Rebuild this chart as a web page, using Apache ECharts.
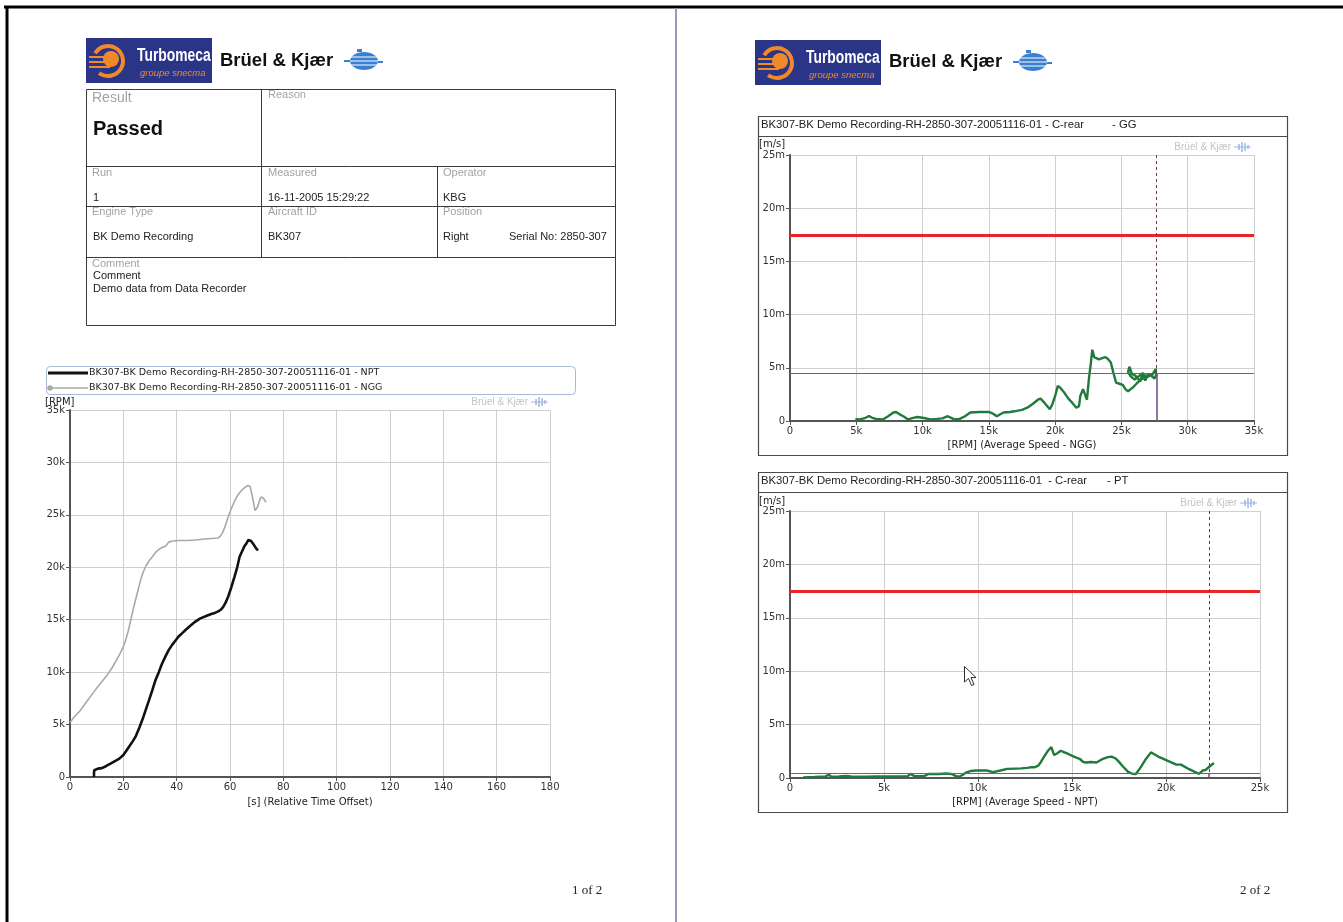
<!DOCTYPE html>
<html><head><meta charset="utf-8">
<script src="https://cdn.jsdelivr.net/npm/echarts@6.0.0/dist/echarts.min.js"></script>
<style>html,body{margin:0;padding:0;background:#fff}#c{width:1343px;height:922px}</style>
</head><body><div id="c"></div><script>
// ---------------- DATA ----------------
// Left chart: RPM vs relative time [s]
const nptPoints = [[9,0],[9,400],[9.1,650],[10.5,800],[12,850],[13.6,1050],[15,1250],[16.7,1500],[18.5,1750],[20,2100],[21,2450],[22.2,2900],[23.5,3400],[24.7,3900],[26,4700],[27.2,5500],[28.4,6400],[29.6,7300],[30.9,8300],[32,9200],[33.3,10000],[34.5,10800],[35.8,11500],[37,12100],[38.3,12600],[39.5,13000],[40.7,13400],[42,13700],[43.2,14000],[45,14400],[46.9,14800],[48.7,15100],[50.6,15300],[52,15450],[53,15550],[54.3,15650],[55.6,15800],[56.5,15950],[57.4,16200],[58.3,16600],[59.3,17200],[60.5,18100],[61.7,19100],[62.7,20000],[63.6,21000],[64.5,21500],[65.4,22000],[66.2,22300],[66.9,22600],[67.9,22500],[68.8,22200],[69.8,21800],[70.5,21600]];
const nggPoints = [[0,5200],[1.5,5700],[3.7,6300],[6,7100],[8.6,8000],[11,8800],[13.6,9600],[15.5,10300],[17.3,11100],[18.8,11800],[20,12400],[20.8,13000],[21.6,13700],[22.2,14300],[22.8,15000],[23.7,16000],[24.7,17000],[25.6,17900],[26.5,18800],[27.4,19500],[28.4,20100],[29.6,20600],[30.9,21000],[32,21400],[33.3,21700],[34.5,21900],[35.8,22000],[36.5,22100],[37,22400],[38.5,22500],[40.7,22550],[44,22550],[46.9,22600],[50.6,22700],[53,22750],[55.6,22800],[56.5,23000],[57.4,23400],[58.3,24000],[59.3,24800],[60.5,25600],[61.7,26300],[63,26900],[64.2,27300],[65.5,27600],[66.7,27800],[67.5,27700],[68,27200],[68.5,26600],[69,25900],[69.4,25400],[69.9,25400],[70.4,25800],[71,26300],[71.6,26700],[72.5,26600],[73.5,26200]];
const legendNames = ['BK307-BK Demo Recording-RH-2850-307-20051116-01 - NPT','BK307-BK Demo Recording-RH-2850-307-20051116-01 - NGG'];

// Right top chart: C-rear GG, velocity [m/s, milli] vs NGG speed [RPM]
const ggPoints = [[4930,0.16],[5300,0.15],[5700,0.3],[5960,0.47],[6200,0.3],[6500,0.2],[7000,0.15],[7400,0.45],[7800,0.8],[8000,0.85],[8300,0.6],[8550,0.45],[8900,0.15],[9300,0.3],[9600,0.38],[10100,0.28],[10600,0.15],[11100,0.2],[11500,0.25],[11900,0.45],[12150,0.3],[12400,0.15],[12800,0.2],[13200,0.45],[13600,0.8],[14300,0.85],[15000,0.85],[15300,0.7],[15600,0.45],[16100,0.8],[16600,0.85],[17100,0.95],[17500,1.05],[17900,1.25],[18300,1.6],[18700,2.0],[18900,2.1],[19200,1.7],[19600,1.1],[19800,1.6],[20000,2.35],[20200,3.3],[20400,3.1],[20700,2.65],[21000,2.1],[21300,1.7],[21600,1.25],[21800,1.4],[21900,2.35],[22100,3.0],[22250,2.5],[22400,2.0],[22550,4.0],[22700,5.5],[22800,6.7],[22950,6.0],[23100,5.9],[23300,5.8],[23550,5.9],[23800,6.0],[24000,5.8],[24200,5.5],[24400,4.5],[24600,3.6],[24850,3.5],[25100,3.4],[25300,3.0],[25500,2.8],[25700,3.0],[25900,3.2],[26200,3.6],[26500,3.9],[26800,4.1],[27000,4.3],[27300,4.4],[27600,4.6],[27600,4.9],[27300,4.3],[27000,4.4],[26800,3.8],[26600,4.4],[26400,3.7],[26200,4.1],[26000,4.3],[25800,4.4],[25600,5.1],[25500,4.6],[25700,4.2],[26000,3.9],[26300,4.2],[26600,4.5],[26900,4.1],[27200,4.3],[27500,4.0],[27650,4.4]];
const ggLimit = [17.5];
const ggLevel = [4.45];
const ggCursor = [27650];

// Right bottom chart: C-rear PT, velocity vs NPT speed
const ptPoints = [[700,0.06],[1300,0.1],[1900,0.15],[2060,0.3],[2200,0.12],[2600,0.15],[3000,0.2],[3060,0.38],[3250,0.15],[4000,0.12],[4600,0.15],[5400,0.15],[6250,0.15],[6400,0.38],[6600,0.2],[7000,0.18],[7200,0.22],[7350,0.38],[7900,0.38],[8300,0.42],[8600,0.38],[8800,0.2],[9000,0.12],[9200,0.3],[9350,0.5],[9600,0.65],[9900,0.7],[10450,0.7],[10800,0.55],[11200,0.7],[11550,0.85],[12000,0.88],[12300,0.9],[12600,0.95],[12800,1.0],[13000,1.0],[13200,1.15],[13350,1.5],[13500,1.95],[13700,2.5],[13900,2.9],[14050,2.15],[14200,2.3],[14400,2.55],[14600,2.4],[14800,2.25],[15100,2.0],[15400,1.8],[15600,1.5],[15750,1.45],[16000,1.5],[16300,1.45],[16650,1.8],[16900,1.95],[17100,2.0],[17300,1.85],[17450,1.6],[17700,1.1],[18000,0.55],[18200,0.4],[18400,0.38],[18650,1.0],[18900,1.7],[19200,2.4],[19400,2.2],[19650,1.95],[20100,1.6],[20550,1.25],[20800,1.25],[21200,0.85],[21500,0.6],[21750,0.38],[21950,0.7],[22100,0.75],[22200,0.6],[22300,1.05],[22400,1.15],[22550,1.4]];
const ptLimit = [17.5];
const ptLevel = [0.47];
const ptCursor = [22300];

// ---------------- STYLE HELPERS ----------------
const F = "'Liberation Sans', Arial, sans-serif";
const FC = "'DejaVu Sans', Tahoma, sans-serif";
function T(x, y, s, size, fill, extra) {
  extra = extra || {};
  return {type:'text', x:x, y:y, silent:true, z:50,
    scaleX: extra.scaleX || 1, originX: 0,
    style:{text:s, fill:fill || '#222',
      font:(extra.style||'') + ' ' + (extra.weight||'normal') + ' ' + size + 'px ' + (extra.family||F),
      textAlign:extra.align||'left', textVerticalAlign:'middle', align:extra.align||'left', verticalAlign:'middle'}};
}
function L(x1,y1,x2,y2,stroke,w,dash){
  return {type:'line', silent:true, z:40, shape:{x1:x1,y1:y1,x2:x2,y2:y2}, style:{stroke:stroke,lineWidth:w,lineDash:dash||null}};
}
function R(x,y,w,h,fill,stroke,lw,r){
  return {type:'rect', silent:true, z:30, shape:{x:x,y:y,width:w,height:h,r:r||0}, style:{fill:fill||'none',stroke:stroke||null,lineWidth:lw||1}};
}
function bkIcon(x, y, col){
  const c = col || '#9cb7e4';
  return [L(x,y,x+17,y,c,1), L(x+5,y-3,x+5,y+3,c,1.5), L(x+8,y-5,x+8,y+5,c,1.5), L(x+11,y-4,x+11,y+4,c,1.5), L(x+14,y-2,x+14,y+2,c,1.5)];
}
function watermark(xr, y){
  return [T(xr, y, 'Brüel & Kjær', 10, '#c4c4c4', {align:'right'})].concat(bkIcon(xr+3, y));
}
function turbomeca(x, y){
  const cx = x + 22, cy = y + 23;
  return [
    R(x, y, 126, 45, '#2b3587', null),
    {type:'arc', silent:true, z:35, shape:{cx:cx, cy:cy, r:15, startAngle:-2.6, endAngle:2.2}, style:{stroke:'#f0892a', lineWidth:4, fill:'none'}},
    {type:'circle', silent:true, z:35, shape:{cx:cx+3, cy:cy-2, r:8}, style:{fill:'#f0892a'}},
    L(x+3, cy-4, cx+2, cy-4, '#f0892a', 2), L(x+3, cy+1, cx+2, cy+1, '#f0892a', 2), L(x+3, cy+6, cx+2, cy+6, '#f0892a', 2),
    T(x+51, y+18, 'Turbomeca', 18, '#ffffff', {weight:'bold', scaleX:0.77}),
    T(x+54, y+35, 'groupe snecma', 9.5, '#f0892a', {style:'italic'})
  ];
}
function globe(cx, cy){
  return [
    {type:'ellipse', silent:true, z:35, shape:{cx:cx, cy:cy, rx:14, ry:9}, style:{fill:'#3b80d0'}},
    L(cx-13, cy-4, cx+13, cy-4, '#ffffff', 1), L(cx-14, cy, cx+14, cy, '#ffffff', 1), L(cx-13, cy+4, cx+13, cy+4, '#ffffff', 1),
    L(cx-20, cy, cx-14, cy, '#3b80d0', 2), L(cx+14, cy+1, cx+19, cy+1, '#3b80d0', 2),
    R(cx-7, cy-12, 5, 3, '#3b80d0', null)
  ];
}
function bkLogo(x, y){ return [T(x, y, 'Brüel & Kjær', 18.5, '#111', {weight:'bold'})]; }

// ---------------- GRAPHICS ----------------
let g = [];
// page frame
g.push(L(4, 7, 1343, 7, '#000', 3));
g.push(L(7, 6, 7, 922, '#000', 3));
g.push(L(676, 8, 676, 922, '#9c98bc', 2));
// logos
g = g.concat(turbomeca(86, 38), bkLogo(220, 61), globe(364, 61));
g = g.concat(turbomeca(755, 40), bkLogo(889, 62), globe(1033, 62));
// table
const tc = '#3a3a3a', lab = '#a3a3a3';
g.push(R(86.5, 89.5, 529, 236, null, tc, 1));
g.push(L(86, 166.5, 615, 166.5, tc, 1));
g.push(L(86, 206.5, 615, 206.5, tc, 1));
g.push(L(86, 257.5, 615, 257.5, tc, 1));
g.push(L(261.5, 89, 261.5, 257, tc, 1));
g.push(L(437.5, 166, 437.5, 257, tc, 1));
g.push(T(92, 98, 'Result', 14, lab));
g.push(T(93, 129, 'Passed', 20, '#111', {weight:'bold'}));
g.push(T(268, 95, 'Reason', 11, lab));
g.push(T(92, 173, 'Run', 11, lab));
g.push(T(93, 198, '1', 11, '#222'));
g.push(T(268, 173, 'Measured', 11, lab));
g.push(T(268, 198, '16-11-2005 15:29:22', 11, '#222'));
g.push(T(443, 173, 'Operator', 11, lab));
g.push(T(443, 198, 'KBG', 11, '#222'));
g.push(T(92, 212, 'Engine Type', 11, lab));
g.push(T(93, 237, 'BK Demo Recording', 11, '#222'));
g.push(T(268, 212, 'Aircraft ID', 11, lab));
g.push(T(268, 237, 'BK307', 11, '#222'));
g.push(T(443, 212, 'Position', 11, lab));
g.push(T(443, 237, 'Right', 11, '#222'));
g.push(T(509, 237, 'Serial No: 2850-307', 11, '#222'));
g.push(T(92, 264, 'Comment', 11, lab));
g.push(T(93, 276, 'Comment', 11, '#222'));
g.push(T(93, 289, 'Demo data from Data Recorder', 11, '#222'));
// left chart legend
g.push(R(46.5, 366.5, 529, 28, null, '#a9b8d6', 1, 4));
g.push(L(48, 373, 88, 373, '#111', 3));
g.push(T(89, 373, legendNames[0], 9.5, '#222', {family:FC}));
g.push(L(50, 388, 88, 388, '#aaaaaa', 1.5));
g.push({type:'circle', silent:true, z:45, shape:{cx:50, cy:388, r:2.8}, style:{fill:'#aaaaaa'}});
g.push(T(89, 388, legendNames[1], 9.5, '#222', {family:FC}));
g.push(T(45, 402, '[RPM]', 10, '#222', {family:FC}));
g = g.concat(watermark(528, 402));
// right chart frames
g.push(R(758.5, 116.5, 529, 339, null, '#4a4a4a', 1.2));
g.push(L(758, 136.5, 1288, 136.5, '#4a4a4a', 1.2));
g.push(T(761, 125, 'BK307-BK Demo Recording-RH-2850-307-20051116-01 - C-rear', 11.3, '#222'));
g.push(T(1112, 125, '- GG', 11.3, '#222'));
g.push(T(759, 144, '[m/s]', 10, '#222', {family:FC}));
g = g.concat(watermark(1231, 147));
g.push(R(758.5, 472.5, 529, 340, null, '#4a4a4a', 1.2));
g.push(L(758, 492.5, 1288, 492.5, '#4a4a4a', 1.2));
g.push(T(761, 481, 'BK307-BK Demo Recording-RH-2850-307-20051116-01  - C-rear', 11.3, '#222'));
g.push(T(1107, 481, '- PT', 11.3, '#222'));
g.push(T(759, 501, '[m/s]', 10, '#222', {family:FC}));
g = g.concat(watermark(1237, 503));
// mouse pointer
g.push({type:'polygon', silent:true, z:60, shape:{points:[[964.5,666.5],[964.5,682],[968.5,678.5],[971.5,685.5],[974,684.5],[971,677.5],[976,677.5]]}, style:{fill:'#ffffff', stroke:'#333', lineWidth:1}});
// page numbers
g.push(T(572, 891, '1 of 2', 13, '#222', {family:"'Liberation Serif', 'DejaVu Serif', serif"}));
g.push(T(1240, 891, '2 of 2', 13, '#222', {family:"'Liberation Serif', 'DejaVu Serif', serif"}));

// ---------------- AXES ----------------
const kfmt = v => v === 0 ? '0' : (v / 1000) + 'k';
const mfmt = v => v === 0 ? '0' : v + 'm';
const lbl = (fmt) => ({show:true, color:'#333', fontSize:10, fontFamily:FC, margin:5, formatter:fmt});
function axisBase(extra){
  return Object.assign({
    type:'value',
    axisLine:{show:true, onZero:false, lineStyle:{color:'#555555', width:2}},
    axisTick:{show:true, length:4, inside:false, lineStyle:{color:'#555555', width:1}},
    axisLabel:lbl(null),
    splitLine:{show:true, lineStyle:{color:'#cfcfcf', width:1}},
    nameTextStyle:{color:'#222', fontSize:10, fontFamily:FC}
  }, extra);
}
const xAxes = [
  axisBase({gridIndex:0, min:0, max:180, interval:20, name:'[s] (Relative Time Offset)', nameLocation:'middle', nameGap:20}),
  axisBase({gridIndex:1, min:0, max:35000, interval:5000, axisLabel:lbl(kfmt), name:'[RPM] (Average Speed - NGG)', nameLocation:'middle', nameGap:19}),
  axisBase({gridIndex:2, min:0, max:25000, interval:5000, axisLabel:lbl(kfmt), name:'[RPM] (Average Speed - NPT)', nameLocation:'middle', nameGap:19})
];
const yAxes = [
  axisBase({gridIndex:0, min:0, max:35000, interval:5000, axisLabel:lbl(kfmt)}),
  axisBase({gridIndex:1, min:0, max:25, interval:5, axisLabel:lbl(mfmt)}),
  axisBase({gridIndex:2, min:0, max:25, interval:5, axisLabel:lbl(mfmt)})
];

function limitMarks(limit, level, cursor){
  return {silent:true, symbol:'none', animation:false, label:{show:false}, emphasis:{disabled:true},
    data:[
      {yAxis:limit, lineStyle:{color:'#e8262a', width:3, type:'solid'}},
      {yAxis:level, lineStyle:{color:'#7a5a8c', width:1.2, type:'solid'}},
      [{coord:[cursor, 25], lineStyle:{color:'#7a3052', width:1, type:[3,3]}}, {coord:[cursor, level]}],
      [{coord:[cursor, level], lineStyle:{color:'#6a4a7c', width:1.5, type:'solid'}}, {coord:[cursor, 0]}]
    ]};
}

const option = {
  backgroundColor:'#ffffff',
  animation:false,
  grid:[
    {left:70, top:410, width:480, height:367, containLabel:false, outerBoundsMode:'none'},
    {left:790, top:155, width:464, height:266, containLabel:false, outerBoundsMode:'none'},
    {left:790, top:511, width:470, height:267, containLabel:false, outerBoundsMode:'none'}
  ],
  xAxis:xAxes,
  yAxis:yAxes,
  graphic:{elements:g},
  series:[
    {name:legendNames[1], type:'line', xAxisIndex:0, yAxisIndex:0, data:nggPoints, symbol:'none', showSymbol:false, lineStyle:{color:'#a9a9a9', width:1.6}, silent:true},
    {name:legendNames[0], type:'line', xAxisIndex:0, yAxisIndex:0, data:nptPoints, symbol:'none', showSymbol:false, lineStyle:{color:'#111111', width:2.6}, silent:true},
    {name:'C-rear - GG', type:'line', xAxisIndex:1, yAxisIndex:1, data:ggPoints, symbol:'none', showSymbol:false, lineStyle:{color:'#1f7a3c', width:2.4}, silent:true, markLine:limitMarks(ggLimit[0], ggLevel[0], ggCursor[0])},
    {name:'C-rear - PT', type:'line', xAxisIndex:2, yAxisIndex:2, data:ptPoints, symbol:'none', showSymbol:false, lineStyle:{color:'#1f7a3c', width:2.4}, silent:true, markLine:limitMarks(ptLimit[0], ptLevel[0], ptCursor[0])}
  ]
};
const chart = echarts.init(document.getElementById('c'), null, {renderer:'canvas', width:1343, height:922});
chart.setOption(option);
</script></body></html>
